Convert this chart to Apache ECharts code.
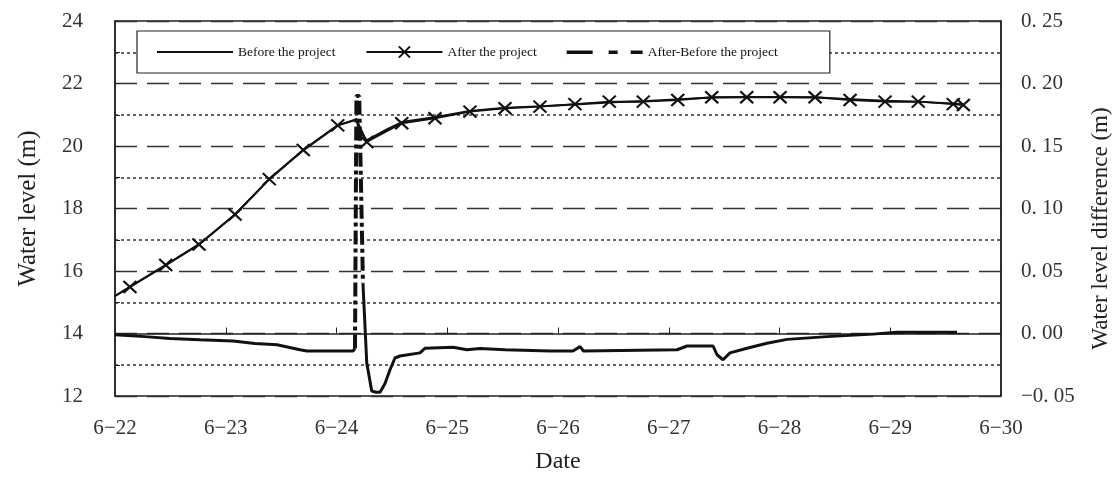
<!DOCTYPE html>
<html>
<head>
<meta charset="utf-8">
<script src="https://cdn.jsdelivr.net/npm/echarts@6/dist/echarts.min.js"></script>
<style>
  html, body { margin: 0; padding: 0; background: #fff; }
  #chart { width: 1118px; height: 482px; }
</style>
</head>
<body>
<div id="chart"></div>
<script>
  // x = days since 6-22
  var xLabels = ['6\u221222', '6\u221223', '6\u221224', '6\u221225', '6\u221226', '6\u221227', '6\u221228', '6\u221229', '6\u221230'];

  // water level before the project (m)
  var beforeData = [
    [0, 15.2], [0.135, 15.49], [0.458, 16.19], [0.758, 16.85], [1.084, 17.81],
    [1.393, 18.94], [1.70, 19.87], [2.011, 20.66], [2.18, 20.85], [2.20, 20.55],
    [2.27, 20.18], [2.45, 20.52], [2.60, 20.78], [2.90, 20.93], [3.20, 21.12],
    [3.50, 21.22], [3.85, 21.27], [4.15, 21.33], [4.50, 21.40], [4.80, 21.44],
    [5.10, 21.50], [5.40, 21.55], [5.70, 21.57], [6.00, 21.57], [6.35, 21.55],
    [6.65, 21.50], [6.95, 21.45], [7.25, 21.42], [7.60, 21.35], [7.66, 21.32]
  ];

  // water level after the project (m), marker points
  var afterData = [
    [0.135, 15.49], [0.458, 16.19], [0.758, 16.85], [1.084, 17.81], [1.393, 18.94],
    [1.70, 19.87], [2.011, 20.66], [2.273, 20.13], [2.589, 20.73], [2.889, 20.89],
    [3.205, 21.10], [3.521, 21.21], [3.837, 21.26], [4.153, 21.34], [4.463, 21.42],
    [4.770, 21.42], [5.081, 21.47], [5.388, 21.56], [5.704, 21.56], [6.005, 21.56],
    [6.321, 21.56], [6.637, 21.47], [6.953, 21.42], [7.253, 21.42], [7.569, 21.34],
    [7.66, 21.31]
  ];
  // unmarked points on the after line
  var afterPlain = [[0, 15.2], [2.18, 20.85]];

  // after - before (m), right axis
  var diffData = [
    [0, -0.001], [0.271, -0.0025], [0.497, -0.004], [0.767, -0.005], [1.065, -0.006],
    [1.264, -0.008], [1.463, -0.009], [1.670, -0.013], [1.734, -0.014], [2.149, -0.014],
    [2.167, -0.012]
  ];
  var diffSpike = [[2.167, -0.012], [2.18, 0.19], [2.205, 0.19], [2.239, 0.040]];
  var diffAfter = [
    [2.239, 0.040], [2.273, -0.0235], [2.318, -0.046], [2.357, -0.047], [2.393, -0.047],
    [2.438, -0.040], [2.483, -0.029], [2.528, -0.0196], [2.573, -0.018], [2.754, -0.0155],
    [2.799, -0.0118], [3.052, -0.011], [3.178, -0.013], [3.296, -0.012], [3.521, -0.013],
    [3.928, -0.014], [4.135, -0.014], [4.199, -0.0105], [4.23, -0.014], [5.075, -0.013],
    [5.165, -0.010], [5.400, -0.010], [5.436, -0.017], [5.490, -0.021], [5.553, -0.0155],
    [5.707, -0.0118], [5.887, -0.0078], [6.068, -0.0047], [6.429, -0.0025], [6.844, -0.0005],
    [7.061, 0.001], [7.603, 0.001]
  ];

  var serif = "'Liberation Serif', 'Times New Roman', serif";
  var ink = '#111';

  var afterSeriesData = afterData.map(function (p) { return p; });
  afterPlain.forEach(function (p) {
    afterSeriesData.push({ value: p, symbol: 'none' });
  });
  afterSeriesData.sort(function (a, b) {
    var ax = a.value ? a.value[0] : a[0];
    var bx = b.value ? b.value[0] : b[0];
    return ax - bx;
  });

  var myChart = echarts.init(document.getElementById('chart'));
  var option = {
    animation: false,
    backgroundColor: '#fff',
    grid: {
      left: 115, right: 117, top: 21, bottom: 86,
      outerBoundsMode: 'none',
      show: true, borderColor: '#222', borderWidth: 1.5
    },
    legend: {
      left: 137, top: 31,
      padding: [14, 52, 14, 20],
      backgroundColor: '#fff',
      borderColor: '#222', borderWidth: 1.2,
      itemWidth: 76, itemHeight: 14, itemGap: 30,
      textStyle: { fontFamily: serif, fontSize: 13.5, color: ink },
      data: [
        { name: 'Before the project', icon: 'path://M0,6.2h76v2H0z' },
        { name: 'After the project' },
        { name: 'After-Before the project',
          icon: 'path://M0,5.5h26v3.5H0z M42,5.5h9v3.5h-9z M64,5.5h12v3.5h-12z M0,0h0.01v14H0z' }
      ]
    },
    xAxis: {
      type: 'value', min: 0, max: 8, interval: 1,
      name: 'Date', nameLocation: 'middle', nameGap: 54,
      nameTextStyle: { fontFamily: serif, fontSize: 24, color: '#222' },
      axisLine: { lineStyle: { color: '#222', width: 1.5 } },
      axisTick: { inside: true, length: 6, lineStyle: { color: '#222' } },
      axisLabel: {
        margin: 22, fontFamily: serif, fontSize: 21, color: '#333',
        formatter: function (v) { return xLabels[Math.round(v)]; }
      },
      splitLine: { show: false }
    },
    yAxis: [
      {
        type: 'value', min: 12, max: 24, interval: 2,
        name: 'Water level (m)', nameLocation: 'middle', nameGap: 74,
        nameTextStyle: { fontFamily: serif, fontSize: 25, color: '#222' },
        axisLine: { show: true, lineStyle: { color: '#222', width: 1.5 } },
        axisTick: { inside: true, length: 5, lineStyle: { color: '#222' } },
        minorTick: { show: true, splitNumber: 2, length: 5, lineStyle: { color: '#222' } },
        axisLabel: { margin: 32, fontFamily: serif, fontSize: 21, color: '#333' },
        splitLine: { show: true, lineStyle: { color: '#333', width: 1.3, type: [22, 10] } },
        minorSplitLine: { show: true, lineStyle: { color: '#333', width: 1.5, type: [3, 3] } }
      },
      {
        type: 'value', min: -0.05, max: 0.25, interval: 0.05, position: 'right',
        name: 'Water level difference (m)', nameLocation: 'middle', nameGap: 88,
        nameRotate: 90,
        nameTextStyle: { fontFamily: serif, fontSize: 23, color: '#222', padding: [0, 40, 0, 0] },
        axisLine: { show: true, lineStyle: { color: '#222', width: 1.5 } },
        axisTick: { show: false },
        axisLabel: {
          margin: 20, fontFamily: serif, fontSize: 21, color: '#333',
          formatter: function (v) {
            return v.toFixed(2).replace('.', '. ').replace('-', '\u2212');
          }
        },
        splitLine: { show: false }
      }
    ],
    series: [
      {
        name: 'Before the project', type: 'line', symbol: 'none',
        lineStyle: { color: ink, width: 2 },
        itemStyle: { color: ink },
        data: beforeData
      },
      {
        name: 'After the project', type: 'line',
        symbol: 'path://M0,0L10,10M10,0L0,10', symbolSize: [13, 12],
        showAllSymbol: true,
        lineStyle: { color: ink, width: 2 },
        itemStyle: { color: 'transparent', borderColor: ink, borderWidth: 2.2 },
        data: afterSeriesData
      },
      {
        name: 'After-Before the project', type: 'line', yAxisIndex: 1, symbol: 'none',
        lineStyle: { color: ink, width: 3 },
        itemStyle: { color: ink },
        data: diffData
      },
      {
        name: 'After-Before the project', type: 'line', yAxisIndex: 1, symbol: 'none',
        lineStyle: { color: ink, width: 4, type: [14, 4, 4, 4] },
        itemStyle: { color: ink },
        data: diffSpike
      },
      {
        name: 'After-Before the project', type: 'line', yAxisIndex: 1, symbol: 'none',
        lineStyle: { color: ink, width: 3 },
        itemStyle: { color: ink },
        data: diffAfter
      }
    ]
  };
  myChart.setOption(option);
</script>
</body>
</html>
